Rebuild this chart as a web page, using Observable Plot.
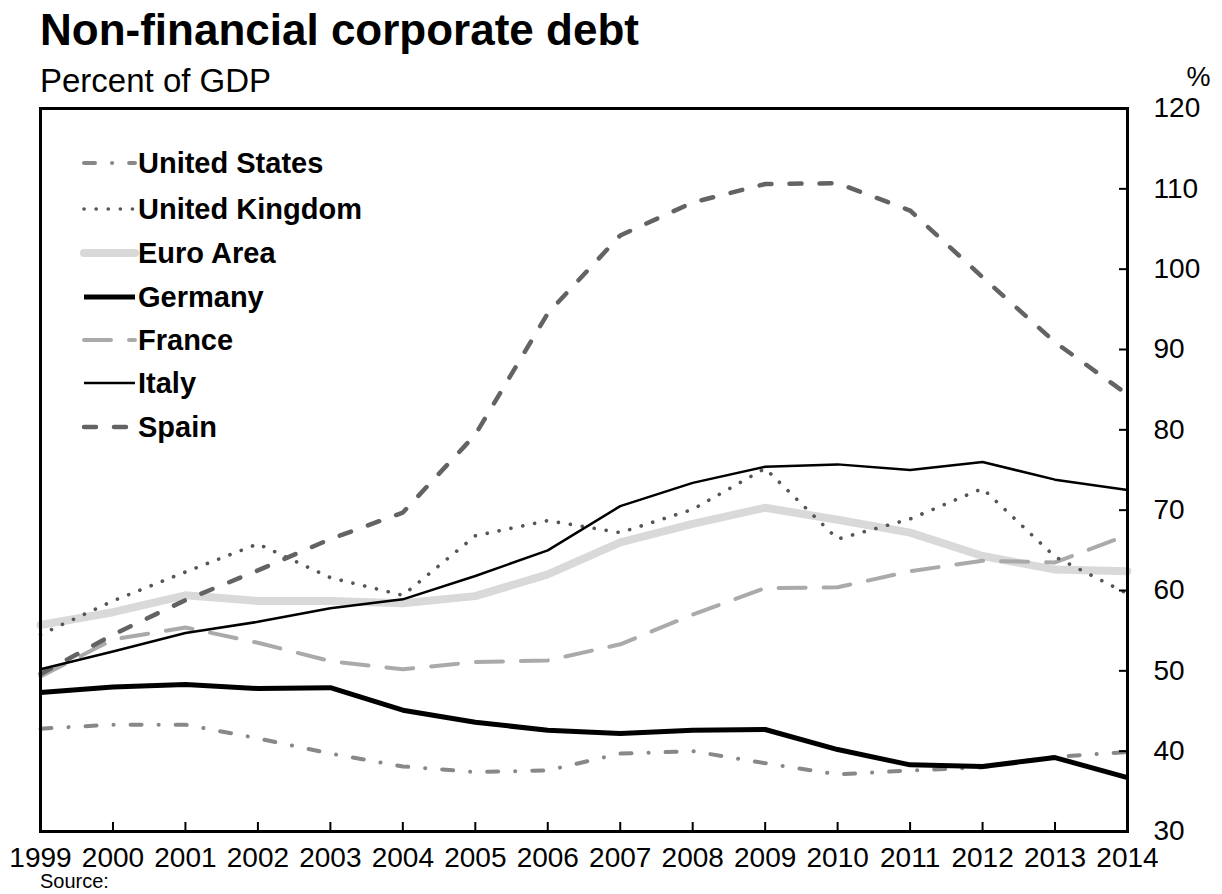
<!DOCTYPE html>
<html>
<head>
<meta charset="utf-8">
<script src="https://cdn.jsdelivr.net/npm/d3@7"></script>
<script src="https://cdn.jsdelivr.net/npm/@observablehq/plot@0.6"></script>
<style>
  html, body { margin: 0; padding: 0; background: #fff; }
  body { width: 1222px; height: 894px; position: relative; overflow: hidden; font-family: "Liberation Sans", Arial, sans-serif; color: #000; }
  .abs { position: absolute; white-space: nowrap; line-height: 1; }
  #title { left: 40px; top: 8px; font-size: 44px; font-weight: bold; }
  #subtitle { left: 40px; top: 64px; font-size: 33px; }
  #source { left: 40px; top: 871px; font-size: 20px; }
  #chart { position: absolute; left: 0; top: 50px; }
  #legend { position: absolute; left: 0; top: 0; }
</style>
</head>
<body>
<div id="title" class="abs">Non-financial corporate debt</div>
<div id="subtitle" class="abs">Percent of GDP</div>
<div id="chart"></div>
<svg id="legend" width="400" height="460"></svg>
<div id="source" class="abs">Source:</div>
<script>
const years = [1999,2000,2001,2002,2003,2004,2005,2006,2007,2008,2009,2010,2011,2012,2013,2014];
const yTicks = [30,40,50,60,70,80,90,100,110,120];

const unitedStates  = [42.8,43.3,43.3,41.6,39.7,38.1,37.4,37.6,39.7,40.0,38.5,37.1,37.6,38.0,39.3,39.9];
const unitedKingdom = [54.5,58.7,62.3,65.8,61.6,59.4,66.8,68.7,67.2,70.1,75.2,66.4,68.9,72.7,64.2,59.6];
const euroArea      = [55.7,57.3,59.4,58.7,58.7,58.4,59.3,62.0,66.0,68.3,70.3,68.8,67.2,64.3,62.6,62.4];
const germany       = [47.3,48.0,48.3,47.8,47.9,45.1,43.6,42.6,42.2,42.6,42.7,40.2,38.3,38.1,39.2,36.7];
const france        = [49.3,53.9,55.4,53.5,51.2,50.2,51.1,51.3,53.3,57.0,60.3,60.4,62.4,63.7,63.5,66.9];
const italy         = [50.2,52.4,54.7,56.1,57.8,58.9,61.8,65.0,70.5,73.4,75.4,75.7,75.0,76.0,73.8,72.5];
const spain         = [49.6,54.5,58.8,62.5,66.4,69.7,79.4,94.5,104.2,108.3,110.6,110.7,107.3,99.0,90.9,84.4];

const seriesNames = ["United States","United Kingdom","Euro Area","Germany","France","Italy","Spain"];
const seriesValues = [unitedStates, unitedKingdom, euroArea, germany, france, italy, spain];

// styles (kept separate from data)
const styles = {
  "United States":  {stroke:"#888888", strokeWidth:4,   dash:"11,17,0.1,17", cap:"round"},
  "United Kingdom": {stroke:"#555555", strokeWidth:3.6, dash:"0.1,12",       cap:"round"},
  "Euro Area":      {stroke:"#d9d9d9", strokeWidth:8,   dash:null,           cap:"round"},
  "Germany":        {stroke:"#000000", strokeWidth:5,   dash:null,           cap:"butt"},
  "France":         {stroke:"#aaaaaa", strokeWidth:4,   dash:"27,18",        cap:"round"},
  "Italy":          {stroke:"#000000", strokeWidth:2.5, dash:null,           cap:"butt"},
  "Spain":          {stroke:"#636363", strokeWidth:4.5, dash:"12,18",        cap:"round"}
};
const drawOrder = ["Euro Area","United States","France","United Kingdom","Spain","Italy","Germany"];

const table = seriesNames.map((name, i) => ({
  name,
  rows: years.map((year, j) => ({year, value: seriesValues[i][j]}))
}));

const lineMarks = drawOrder.map(name => {
  const s = styles[name];
  const t = table.find(d => d.name === name);
  return Plot.line(t.rows, {
    x: "year", y: "value",
    stroke: s.stroke, strokeWidth: s.strokeWidth,
    strokeDasharray: s.dash || undefined,
    strokeLinecap: s.cap, strokeLinejoin: "round"
  });
});

const chart = Plot.plot({
  width: 1222,
  height: 820,
  marginTop: 58,
  marginBottom: 39,
  marginLeft: 40,
  marginRight: 95,
  style: {fontFamily: "'Liberation Sans', Arial, sans-serif", fontSize: "28px", color: "#000", background: "transparent", overflow: "visible"},
  x: {domain: [1999, 2014]},
  y: {domain: [30, 120]},
  marks: [
    ...lineMarks,
    Plot.frame({stroke: "#000", strokeWidth: 3}),
    Plot.axisX({ticks: years, tickSize: 9, dy: -9, text: null, label: null, strokeWidth: 2}),
    Plot.axisX({ticks: years, tickSize: 0, tickPadding: 16, tickFormat: d => String(d), label: null, fontSize: 28}),
    Plot.axisY({anchor: "right", ticks: yTicks, tickSize: 9, dx: -9, text: null, label: null, strokeWidth: 2}),
    Plot.axisY({anchor: "right", ticks: yTicks, tickSize: 0, tickPadding: 26, label: null, fontSize: 28}),
    Plot.text(["%"], {frameAnchor: "top-right", dx: 83, dy: -42, textAnchor: "end", fontSize: 27})
  ]
});
document.getElementById("chart").appendChild(chart);

// Legend (inside plot area, top-left)
const legendRowY = [163, 209, 253, 297, 340, 383, 427];
const lg = d3.select("#legend");
seriesNames.forEach((name, i) => {
  const s = styles[name];
  const y = legendRowY[i];
  lg.append("line")
    .attr("x1", 84).attr("x2", 135).attr("y1", y).attr("y2", y)
    .attr("stroke", s.stroke).attr("stroke-width", s.strokeWidth)
    .attr("stroke-dasharray", s.dash)
    .attr("stroke-linecap", s.cap);
  lg.append("text")
    .attr("x", 138).attr("y", y).attr("dy", "0.36em")
    .attr("font-family", "'Liberation Sans', Arial, sans-serif")
    .attr("font-size", 29).attr("font-weight", "bold")
    .text(name);
});
</script>
</body>
</html>
